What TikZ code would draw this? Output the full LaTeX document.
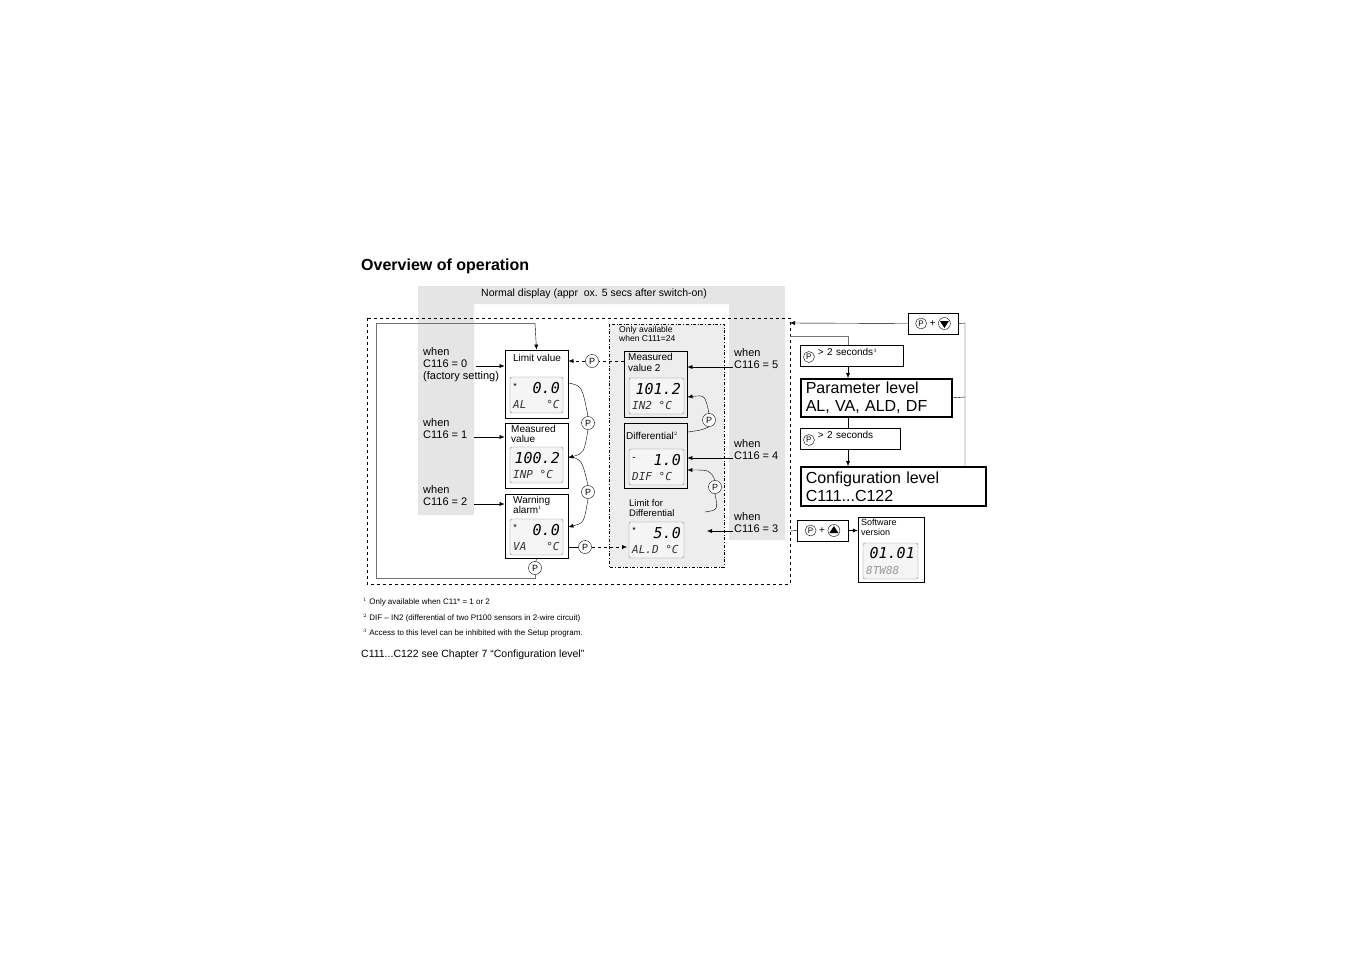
\documentclass[tikz,border=0pt]{standalone}
\usepackage{fontspec}
\setmainfont{Liberation Sans}
\newfontfamily\lcdfont{DejaVu Sans Mono}
\usetikzlibrary{arrows.meta}
\newcommand{\pcirc}{\tikz[baseline=-3pt,x=1pt,y=1pt]\node[circle,draw,inner sep=0pt,minimum size=11pt,font=\fontsize{8}{8}\selectfont]{P};}
\newcommand{\tridn}{\tikz[baseline=-3pt,x=1pt,y=1pt]{\draw (0,0) circle (6); \fill (-4.5,2.5) -- (4.5,2.5) -- (0,-4.5) -- cycle;}}
\newcommand{\triup}{\tikz[baseline=-3pt,x=1pt,y=1pt]{\draw (0,0) circle (6); \fill (-4.5,-2.5) -- (4.5,-2.5) -- (0,4.5) -- cycle;}}
\begin{document}
\begin{tikzpicture}[x=1pt,y=-1pt,
  txt/.style={font=\fontsize{11}{12}\selectfont,inner sep=0pt,align=left},
  sm/.style={font=\fontsize{10}{11}\selectfont,inner sep=0pt,align=left},
  fn/.style={font=\fontsize{8}{9}\selectfont,inner sep=0pt,anchor=west},
  pc/.style={circle,draw,thin,inner sep=0pt,minimum size=13pt,font=\fontsize{9}{9}\selectfont,fill=white},
  dbox/.style={draw,line width=0.8pt},
  lcd/.style={draw=gray,rounded corners=2pt,fill=gray!8},
  lcdt/.style={font=\lcdfont\itshape\fontsize{15}{15}\selectfont,inner sep=0pt},
  lcds/.style={font=\lcdfont\itshape\fontsize{11}{11}\selectfont,inner sep=0pt,text=black!80},
  ar/.style={-{Latex[length=5pt,width=4pt]},thin},
  big/.style={draw,line width=1.6pt,font=\fontsize{16}{18}\selectfont,align=left,anchor=north west,inner sep=0pt,text width=140pt}]
\useasboundingbox (0,0) rectangle (1350,954);
\fill[white] (0,0) rectangle (1350,954);
% gray band
\fill[black!10] (418,286) -- (785,286) -- (785,540) -- (729,540) -- (729,304) -- (474,304) -- (474,515) -- (418,515) -- cycle;
\node[font=\bfseries\fontsize{16}{18}\selectfont,anchor=west,inner sep=0pt] (title) at (361,266) {Overview of operation};
\node[txt,font=\fontsize{10.5}{12}\selectfont] (nd) at (594,294) {Normal display (appr\ \ ox. 5 secs after switch-on)};
% dash-dot box
\draw[dash dot,fill=black!7] (609,324) rectangle (724,567);
\node[font=\fontsize{8.5}{9.5}\selectfont,align=left,anchor=north west,inner sep=0pt] (only) at (619,326) {Only available\\when C111=24};
% big dashed box
\draw[dashed,thin] (367,318) rectangle (790,584);
% boxes
\node[dbox,minimum width=63pt,minimum height=68pt] (lv) at (536.5,384) {};
\node[sm,anchor=north] at (537,354) {Limit value};
\node[dbox,minimum width=63pt,minimum height=65pt] (mv) at (536.5,455.5) {};
\node[sm,anchor=north west,font=\fontsize{10}{10}\selectfont] at (511,425) {Measured\\value};
\node[dbox,minimum width=63pt,minimum height=64pt] (wa) at (536.5,526) {};
\node[sm,anchor=north west,font=\fontsize{10}{10}\selectfont] at (513,496) {Warning\\alarm$^{\scriptscriptstyle 1}$};
\node[dbox,minimum width=63pt,minimum height=66pt] (mv2) at (655.5,384) {};
\node[sm,anchor=north west,font=\fontsize{10}{11}\selectfont] at (628,353) {Measured\\value 2};
\node[dbox,minimum width=63pt,minimum height=65pt] (dif) at (655.5,455.5) {};
\node[sm,anchor=north west] at (626,432) {Differential$^{\scriptscriptstyle 2}$};
\node[font=\fontsize{9.5}{10}\selectfont,align=left,anchor=north west,inner sep=0pt] (lfd) at (629,499) {Limit for\\Differential};
% LCDs
\foreach \x/\y/\w/\a/\b [count=\i] in {510/377/53/0.0/AL\ \ \ °C, 510/447/53/100.2/INP °C, 510/519/53/0.0/VA\ \ \ °C, 629/378/55/101.2/IN2 °C, 629/449/55/1.0/DIF °C, 629/522/55/5.0/AL.D °C}{
  \draw[lcd] (\x,\y) rectangle ++(\w,36);
  \node[lcdt,anchor=east] at (\x+\w-3,\y+11) {\a};
  \node[lcds,anchor=west] at (\x+3,\y+27) {\b};
}
\node[font=\fontsize{9}{9}\selectfont,inner sep=0pt] at (515,386) {*};
\node[font=\fontsize{9}{9}\selectfont,inner sep=0pt] at (515,527) {*};
\node[font=\fontsize{9}{9}\selectfont,inner sep=0pt] at (634,530) {*};
\node[font=\fontsize{10}{9}\selectfont,inner sep=0pt] at (634,459) {-};
% left labels
\node[txt,anchor=north west] (w0) at (423,347) {when\\C116 = 0\\(factory setting)};
\node[txt,anchor=north west] (w1) at (423,418) {when\\C116 = 1};
\node[txt,anchor=north west] (w2) at (423,485) {when\\C116 = 2};
\coordinate (w0e) at (476,366); \coordinate (w1e) at (474,437); \coordinate (w2e) at (474,504);
\draw[ar] (w0e) -- (lv.west |- w0e);
\draw[ar] (w1e) -- (mv.west |- w1e);
\draw[ar] (w2e) -- (wa.west |- w2e);
% right labels
\node[txt,anchor=north west] (w5) at (734,348) {when\\C116 = 5};
\node[txt,anchor=north west] (w4) at (734,439) {when\\C116 = 4};
\node[txt,anchor=north west] (w3) at (734,512) {when\\C116 = 3};
\coordinate (w5e) at (733,367); \coordinate (w4e) at (733,458); \coordinate (w3e) at (733,531);
\draw[ar] (w5e) -- (mv2.east |- w5e);
\draw[ar] (w4e) -- (dif.east |- w4e);
\coordinate (lfdr) at (707,531);
\draw[ar] (w3e) -- (lfdr);
% P circles and connections
\node[pc] (p1) at (592,361) {P};
\draw[dashed] (mv2.west |- p1) -- (p1);
\draw[dashed,ar] (p1) -- (lv.east |- p1);
\node[pc] (p2) at (588,423) {P};
\draw (569,383) .. controls (582,386) .. (p2.north);
\draw[ar] (p2.south) .. controls (584,453) .. (mv.east |- 0,458);
\node[pc] (p3) at (588,492) {P};
\draw (569,456) .. controls (582,460) .. (p3.north);
\draw[ar] (p3.south) .. controls (584,523) .. (wa.east |- 0,527);
\node[pc] (p4) at (585,547) {P};
\draw (wa.east |- p4) -- (p4);
\coordinate (lfdl) at (627,547);
\draw[dashed,ar] (p4) -- (lfdl);
\node[pc] (p5) at (709,420) {P};
\draw (688,432) .. controls (702,430) .. (p5.south);
\draw[ar] (p5.north) .. controls (705,395) .. (mv2.east |- 0,397);
\node[pc] (p6) at (715,487) {P};
\draw (705,512) .. controls (718,510) .. (p6.south);
\draw[ar] (p6.north) .. controls (710,470) .. (dif.east |- 0,470);
\node[pc] (p7) at (535,568) {P};
\draw (wa.south) -- (p7);
\draw[black!55] (p7.south) -- (535,578) -- (376,578) -- (376,323) -- (535,323);
\draw[ar] (535,323) -- (lv.north);
% right side
\node[draw,thin,minimum width=50pt,minimum height=21pt,font=\fontsize{10}{10}\selectfont] (pdn) at (933,323.5) {\pcirc{} + \tridn};
\coordinate (dbr) at (790,323);
\draw[ar] (pdn.west) -- (dbr);
\node[draw,thin,minimum width=103pt,minimum height=21pt,anchor=north west,font=\fontsize{10}{10}\selectfont,inner sep=2pt,text width=97pt] (s1) at (800,345) {\pcirc{} > 2 seconds$^{\scriptscriptstyle 3}$};
\node[big,text width=141pt,minimum height=38pt,inner xsep=5pt] (pl) at (800,378) {Parameter level\\AL, VA, ALD, DF};
\node[draw,thin,minimum width=100pt,minimum height=21pt,anchor=north west,font=\fontsize{10}{10}\selectfont,inner sep=2pt,text width=94pt] (s2) at (800,428) {\pcirc{} > 2 seconds};
\node[big,text width=175pt,minimum height=39pt,inner xsep=5pt] (cl) at (800,466) {Configuration level\\C111...C122};
\draw[black!55] (790,336) -- (848,336) -- (848,345);
\draw[ar] (848,366) -- (pl.north -| 848,0);
\draw (848,416) -- (848,428);
\draw[ar] (848,449) -- (cl.north -| 848,0);
\draw (pdn.east) -- (965,323) -- (965,466);
\draw (pl.east) -- (965,397);
\node[draw,thin,minimum width=51pt,minimum height=21pt,font=\fontsize{10}{10}\selectfont] (pup) at (822.5,530.5) {\pcirc{} + \triup};
\draw (790,531) -- (pup.west);
\node[draw,thin,minimum width=66pt,minimum height=65pt] (sw) at (891,549.5) {};
\node[font=\fontsize{9}{10}\selectfont,align=left,anchor=north west,inner sep=0pt] at (861,519) {Software\\version};
\draw[ar] (pup.east) -- (sw.west |- pup);
\draw[lcd] (863,543) rectangle (918,579);
\node[lcdt,anchor=east] at (915,553) {01.01};
\node[lcds,anchor=west,text=black!40] at (866,570) {8TW88};
% footnotes
\node[fn] at (363,602) {$^{\scriptscriptstyle 1}$ Only available when C11* = 1 or 2};
\node[fn] at (363,618) {$^{\scriptscriptstyle 2}$ DIF – IN2 (differential of two Pt100 sensors in 2-wire circuit)};
\node[fn] at (363,633) {$^{\scriptscriptstyle 3}$ Access to this level can be inhibited with the Setup program.};
\node[txt,anchor=west,font=\fontsize{10.5}{12}\selectfont] at (361,655) {C111...C122 see Chapter 7 “Configuration level”};
\end{tikzpicture}
\end{document}
